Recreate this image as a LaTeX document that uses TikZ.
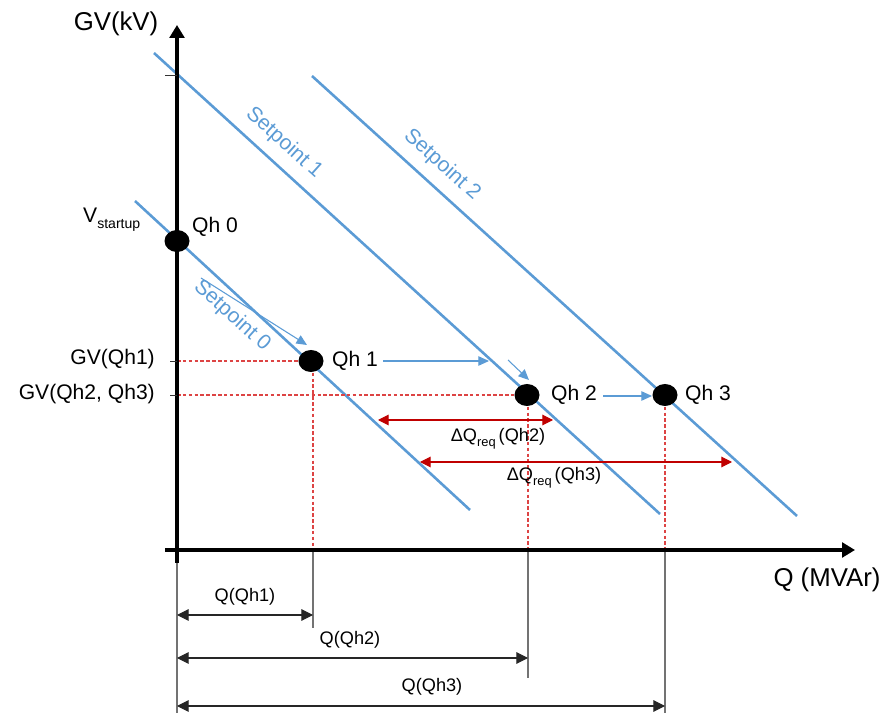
\documentclass[tikz,border=0pt]{standalone}
\usepackage{fontspec}
\setmainfont{Liberation Sans}
\usetikzlibrary{arrows.meta,shapes.geometric}
\definecolor{spblue}{HTML}{5B9BD5}
\definecolor{dashred}{HTML}{DD4444}
\definecolor{darkred}{HTML}{C00000}
\begin{document}
\begin{tikzpicture}[x=0.03cm,y=0.03cm,
  axisline/.style={line width=3.4pt,-{Triangle[length=11pt,width=12.5pt]}},
  spline/.style={spblue,line width=2.2pt},
  dot/.style={ellipse,fill=black,minimum width=0.75cm,minimum height=0.66cm,inner sep=0pt},
  lbl/.style={font=\fontsize{18}{20}\selectfont,inner sep=0pt},
  biglbl/.style={font=\fontsize{22}{24}\selectfont,inner sep=0pt},
  smalllbl/.style={font=\fontsize{15.5}{17}\selectfont,inner sep=0pt},
  splbl/.style={lbl,text=spblue,rotate=-42},
  reddash/.style={dashred,line width=1pt,dash pattern=on 3pt off 2pt},
  extline/.style={gray!90!black,line width=0.9pt},
  tickline/.style={black!80,line width=0.8pt},
  dimarrow/.style={black!85,line width=0.9pt,{Triangle[length=10pt,width=10pt]}-{Triangle[length=10pt,width=10pt]}},
  redarrow/.style={darkred,line width=0.9pt,{Triangle[length=9pt,width=9pt]}-{Triangle[length=9pt,width=9pt]}},
  movearrow/.style={spblue,line width=0.9pt,-{Triangle[length=9pt,width=8pt]}}
]
\useasboundingbox (0,0) rectangle (885,-713);

% coordinates
\coordinate (yb) at (177,-563);
\coordinate (yt) at (177,-25);
\coordinate (xl) at (165,-550);
\coordinate (xr) at (855,-550);
\coordinate (s0a) at (135,-201);
\coordinate (s0b) at (470,-510);
\coordinate (s1a) at (154,-53);
\coordinate (s1b) at (660,-514);
\coordinate (s2a) at (312,-76);
\coordinate (s2b) at (797,-516);

% setpoint lines
\draw[spline] (s0a) -- (s0b);
\draw[spline] (s1a) -- (s1b);
\draw[spline] (s2a) -- (s2b);

% dashed red guides
\coordinate (h1l) at (177,-361);
\coordinate (h2l) at (177,-395);
\coordinate (a1) at (313,-550);
\coordinate (a2) at (528,-550);
\coordinate (a3) at (665,-550);
\draw[reddash] (h1l) -- (311,-361);
\draw[reddash] (h2l) -- (527,-395);
\draw[reddash] (313,-361) -- (a1);
\draw[reddash] (528,-395) -- (a2);
\draw[reddash] (665,-395) -- (a3);

% extension lines below axis
\coordinate (e0) at (177,-713);
\coordinate (e1) at (313,-628);
\coordinate (e2) at (528,-678);
\coordinate (e3) at (665,-713);
\draw[extline] (177,-552) -- (e0);
\draw[extline] (a1) -- (e1);
\draw[extline] (a2) -- (e2);
\draw[extline] (a3) -- (e3);

% axes
\draw[axisline] (yb) -- (yt);
\draw[axisline] (xl) -- (xr);

% ticks
\draw[tickline] (165,-75) -- (177,-75);
\draw[tickline] (170,-361) -- (177,-361);
\draw[tickline] (170,-395) -- (177,-395);

% axis labels
\node[biglbl] (ylab) at (116,-24) {GV(kV)};
\node[biglbl] (xlab) at (827,-580) {Q (MVAr)};
\node[lbl,anchor=base west] (vs) at (83,-223) {V\raisebox{-0.45ex}{\fontsize{12}{13}\selectfont startup}};
\node[lbl,anchor=east] (gv1) at (155,-359) {GV(Qh1)};
\node[lbl,anchor=east] (gv2) at (155,-394) {GV(Qh2, Qh3)};

% setpoint labels
\node[splbl] (sp0) at (232,-316) {Setpoint 0};
\node[splbl] (sp1) at (284,-143) {Setpoint 1};
\node[splbl] (sp2) at (442,-165) {Setpoint 2};

% operating points
\node[dot] (q0) at (177,-241) {};
\node[dot] (q1) at (311,-361) {};
\node[dot] (q2) at (527,-395) {};
\node[dot] (q3) at (665,-395) {};
\node[lbl] (lq0) at (215,-227) {Qh 0};
\node[lbl] (lq1) at (355,-361) {Qh 1};
\node[lbl] (lq2) at (574,-395) {Qh 2};
\node[lbl] (lq3) at (708,-395) {Qh 3};

% movement arrows
\coordinate (m0a) at (201,-278);
\coordinate (m0b) at (307,-345);
\coordinate (m1a) at (383,-361);
\coordinate (m1b) at (489,-361);
\coordinate (m2a) at (508,-360);
\coordinate (m2b) at (529,-380);
\coordinate (m3a) at (603,-396);
\coordinate (m3b) at (652,-396);
\draw[movearrow] (m0a) -- (m0b);
\draw[movearrow] (m1a) -- (m1b);
\draw[movearrow] (m2a) -- (m2b);
\draw[movearrow] (m3a) -- (m3b);

% delta Q arrows
\coordinate (d2a) at (378,-420);
\coordinate (d2b) at (553,-420);
\coordinate (d3a) at (420,-462);
\coordinate (d3b) at (732,-462);
\draw[redarrow] (d2a) -- (d2b);
\draw[redarrow] (d3a) -- (d3b);
\node[smalllbl] (dl2) at (498,-439) {ΔQ\raisebox{-0.5ex}{\fontsize{11}{12}\selectfont req}\,(Qh2)};
\node[smalllbl] (dl3) at (554,-478) {ΔQ\raisebox{-0.5ex}{\fontsize{11}{12}\selectfont req}\,(Qh3)};

% Q dimension arrows
\coordinate (k1a) at (177,-615);
\coordinate (k1b) at (313,-615);
\coordinate (k2a) at (177,-658);
\coordinate (k2b) at (528,-658);
\coordinate (k3a) at (177,-706);
\coordinate (k3b) at (665,-706);
\draw[dimarrow] (k1a) -- (k1b);
\draw[dimarrow] (k2a) -- (k2b);
\draw[dimarrow] (k3a) -- (k3b);
\node[smalllbl] (ql1) at (245,-597) {Q(Qh1)};
\node[smalllbl] (ql2) at (350,-640) {Q(Qh2)};
\node[smalllbl] (ql3) at (432,-687) {Q(Qh3)};
\end{tikzpicture}
\end{document}
